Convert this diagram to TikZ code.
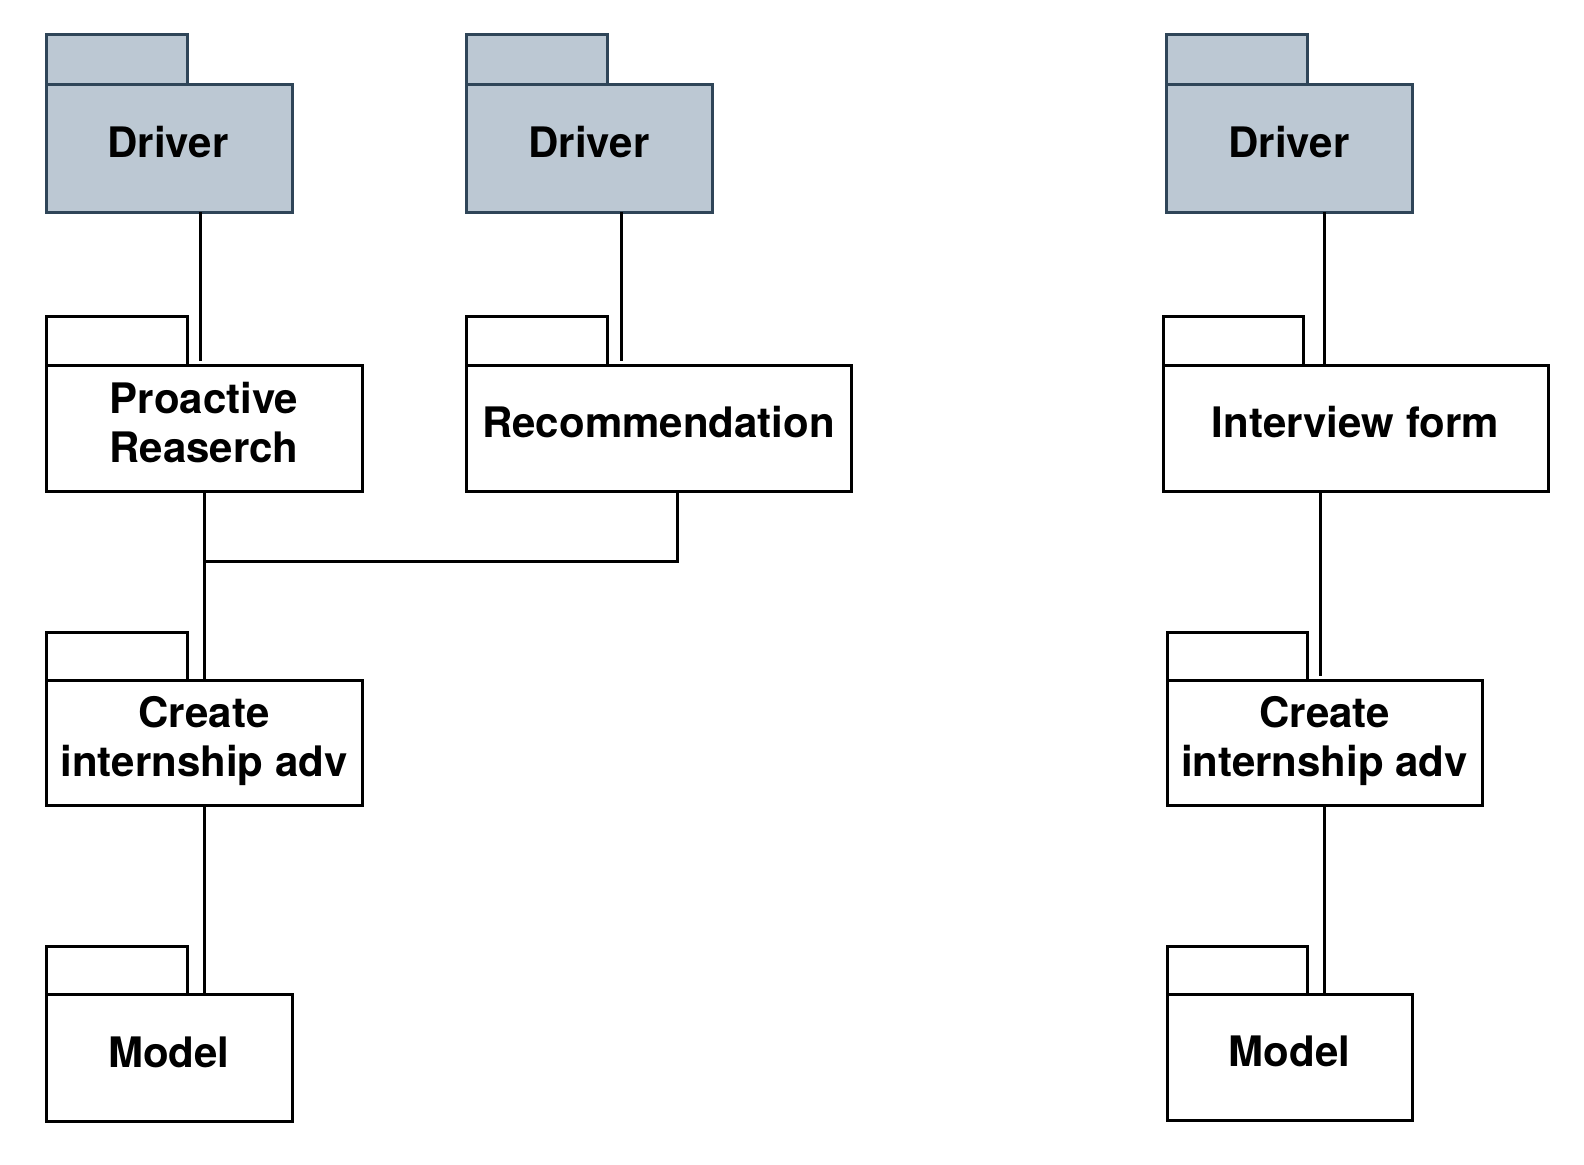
\documentclass[tikz,border=0pt]{standalone}
\usepackage{fontspec}
\setmainfont{TeX Gyre Heros}
\definecolor{drvfill}{HTML}{BCC8D3}
\definecolor{drvline}{HTML}{2F4558}
\begin{document}
\begin{tikzpicture}[x=1pt,y=-1pt,
  pkg/.style={rectangle, draw=black, fill=white, line width=3pt, inner sep=0pt, outer sep=0pt, anchor=north west},
  drv/.style={pkg, draw=drvline, fill=drvfill},
  pkgtab/.style={draw=black, fill=white, line width=3pt},
  drvtab/.style={draw=drvline, fill=drvfill, line width=3pt},
  lbl/.style={font=\fontsize{42}{49.5}\selectfont\bfseries, inner sep=0pt, outer sep=0pt, anchor=base},
  conn/.style={draw=black, line width=3pt}]
\path[fill=white] (0,0) rectangle (1584,1164);

% Driver packages
\node[drv, minimum width=246pt, minimum height=128pt] (d1) at (46,84) {};
\draw[drvtab] (d1.north west) rectangle ++(141,-49);
\node[drv, minimum width=246pt, minimum height=128pt] (d2) at (466,84) {};
\draw[drvtab] (d2.north west) rectangle ++(141,-49);
\node[drv, minimum width=246pt, minimum height=128pt] (d3) at (1166,84) {};
\draw[drvtab] (d3.north west) rectangle ++(141,-49);

% second row
\node[pkg, minimum width=316pt, minimum height=126pt] (p1) at (46,365) {};
\draw[pkgtab] (p1.north west) rectangle ++(141,-49);
\node[pkg, minimum width=385pt, minimum height=126pt] (rec) at (466,365) {};
\draw[pkgtab] (rec.north west) rectangle ++(141,-49);
\node[pkg, minimum width=385pt, minimum height=126pt] (itv) at (1163,365) {};
\draw[pkgtab] (itv.north west) rectangle ++(140,-49);

% third row
\node[pkg, minimum width=316pt, minimum height=125pt] (c1) at (46,680) {};
\draw[pkgtab] (c1.north west) rectangle ++(141,-48);
\node[pkg, minimum width=315pt, minimum height=125pt] (c2) at (1167,680) {};
\draw[pkgtab] (c2.north west) rectangle ++(140,-48);

% fourth row
\node[pkg, minimum width=246pt, minimum height=127pt] (m1) at (46,994) {};
\draw[pkgtab] (m1.north west) rectangle ++(141,-48);
\node[pkg, minimum width=245pt, minimum height=126pt] (m2) at (1167,994) {};
\draw[pkgtab] (m2.north west) rectangle ++(140,-48);

% labels
\node[lbl] (d1t) at ([xshift=-1pt,yshift=-9pt]d1.center) {Driver};
\node[lbl] (d2t) at ([yshift=-9pt]d2.center) {Driver};
\node[lbl] (d3t) at ([yshift=-9pt]d3.center) {Driver};
\node[lbl] (p1t) at ([yshift=15pt]p1.center) {\begin{tabular}[t]{@{}c@{}}Proactive\\Reaserch\end{tabular}};
\node[lbl] (rect) at ([yshift=-9pt]rec.center) {Recommendation};
\node[lbl] (itvt) at ([yshift=-9pt]itv.center) {Interview form};
\node[lbl] (c1t) at ([yshift=15.5pt]c1.center) {\begin{tabular}[t]{@{}c@{}}Create\\internship adv\end{tabular}};
\node[lbl] (c2t) at ([yshift=15.5pt]c2.center) {\begin{tabular}[t]{@{}c@{}}Create\\internship adv\end{tabular}};
\node[lbl] (m1t) at ([yshift=-9.5pt]m1.center) {Model};
\node[lbl] (m2t) at ([yshift=-9.5pt]m2.center) {Model};

% connectors
\draw[conn] ([xshift=154pt]d1.south west) -- ([xshift=154pt,yshift=4pt]p1.north west);
\draw[conn] ([xshift=155pt]d2.south west) -- ([xshift=155pt,yshift=4pt]rec.north west);
\draw[conn] ([xshift=158pt]d3.south west) -- ([xshift=161pt]itv.north west);
\draw[conn] ([xshift=158pt]p1.south west) -- ([xshift=158pt]c1.north west);
\coordinate (j1) at (204,561);
\draw[conn] ([xshift=211pt]rec.south west) |- (j1);
\draw[conn] ([xshift=157pt]itv.south west) -- ([xshift=153pt,yshift=4pt]c2.north west);
\draw[conn] ([xshift=158pt]c1.south west) -- ([xshift=158pt]m1.north west);
\draw[conn] ([xshift=157pt]c2.south west) -- ([xshift=157pt]m2.north west);
\end{tikzpicture}
\end{document}
